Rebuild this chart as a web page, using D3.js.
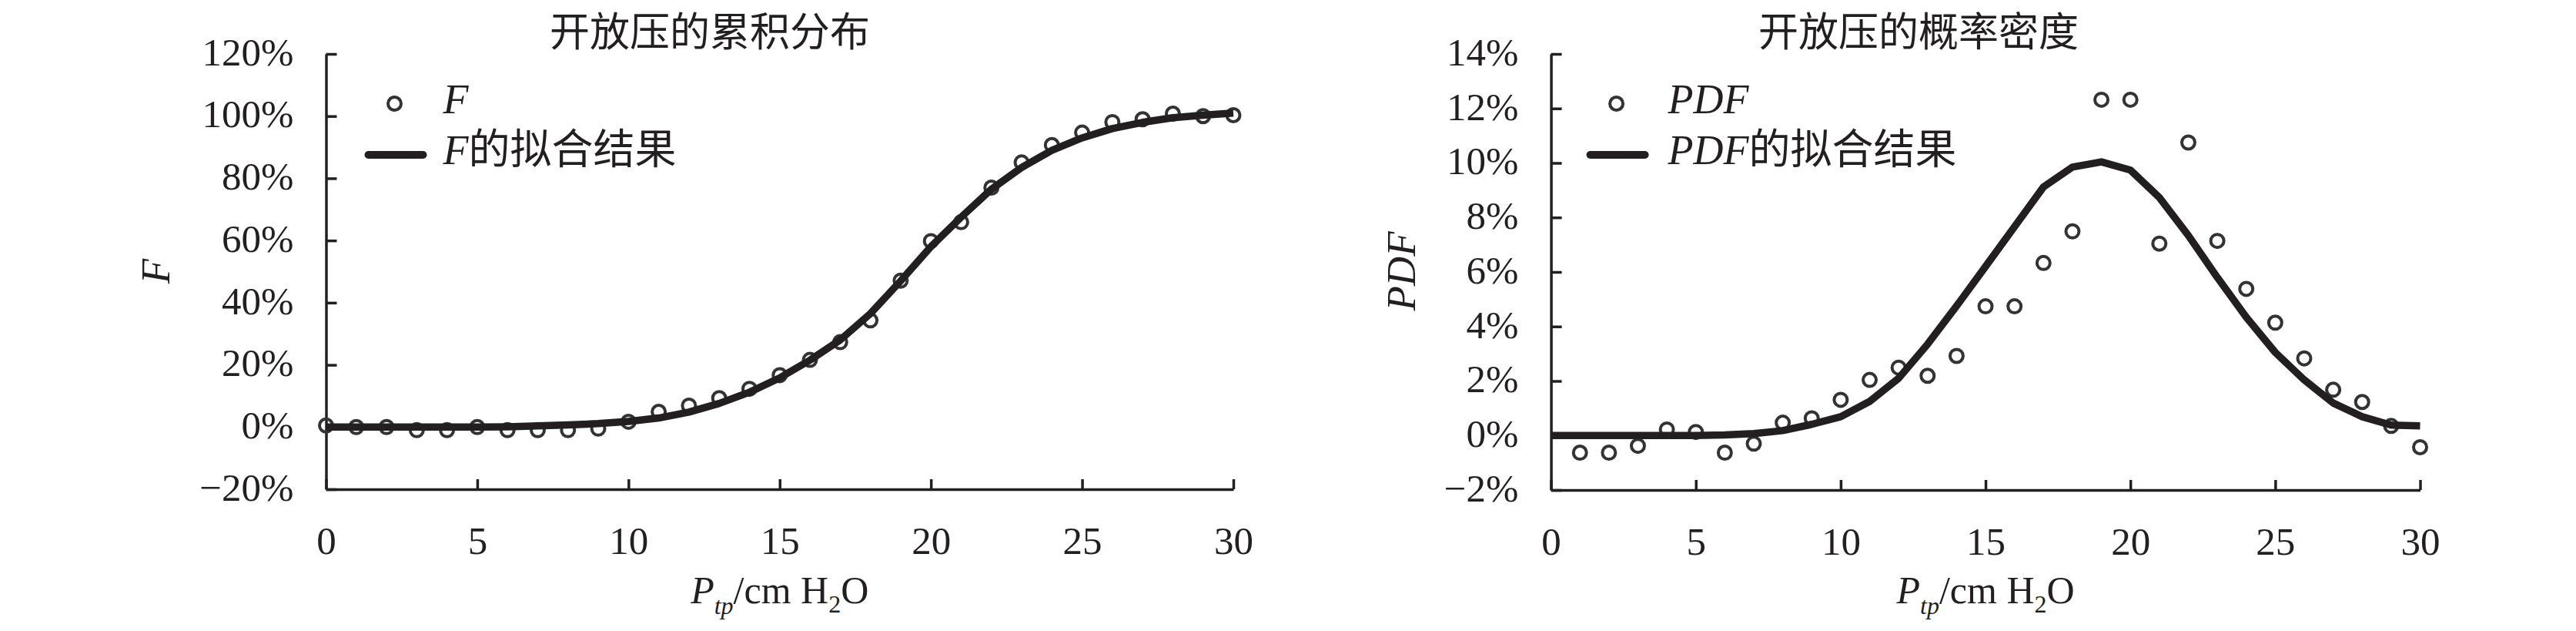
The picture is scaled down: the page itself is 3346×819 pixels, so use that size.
<!DOCTYPE html>
<html>
<head>
<meta charset="utf-8">
<script src="https://cdn.jsdelivr.net/npm/d3@7"></script>
<style>
  html, body { margin: 0; padding: 0; background: #fff; }
  svg { display: block; }
  .serif { font-family: "Liberation Serif", "Times New Roman", serif; }
  .cjk { font-family: "Noto Sans CJK SC", "Noto Sans CJK JP", sans-serif; }
</style>
</head>
<body>
<svg id="chart" width="3346" height="819"></svg>
<script>
// ---------------- data ----------------
const pressure = [0,1,2,3,4,5,6,7,8,9,10,11,12,13,14,15,16,17,18,19,20,21,22,23,24,25,26,27,28,29,30];

// cumulative distribution (%), observed
const cdfObserved = [0.5,0,0,-1,-1,0,-1,-1,-1,-0.5,1.7,4.9,6.9,9.3,12.3,16.7,21.6,27.3,34.3,47.1,59.8,65.9,77,85.1,90.7,94.7,98.1,99,100.8,100,100.3];
// cumulative distribution (%), fitted
const cdfFitted = [0,0,0,0,0,0,0.1,0.4,0.7,1.1,1.8,2.9,4.8,7.6,11.2,15.8,21.5,28,36.5,47,58,67.5,76.5,83.5,89,93,96,98,99.5,100.3,101];

// probability density (%), observed (x = 1..30)
const pdfPressure = [1,2,3,4,5,6,7,8,9,10,11,12,13,14,15,16,17,18,19,20,21,22,23,24,25,26,27,28,29,30];
const pdfObserved = [-0.63,-0.63,-0.38,0.22,0.13,-0.63,-0.3,0.47,0.63,1.31,2.04,2.49,2.19,2.92,4.74,4.74,6.33,7.49,12.32,12.32,7.04,10.75,7.14,5.38,4.14,2.83,1.68,1.23,0.35,-0.43];
// probability density (%), fitted (x = 0..30)
const pdfFitted = [0,0,0,0,0,0,0.02,0.07,0.18,0.41,0.69,1.25,2.1,3.35,4.75,6.2,7.66,9.12,9.85,10.04,9.74,8.73,7.34,5.8,4.34,3.05,2.04,1.19,0.69,0.38,0.35];

const xTicks = [0,5,10,15,20,25,30];
const cdfTicks = [-20,0,20,40,60,80,100,120];
const pdfTicks = [-2,0,2,4,6,8,10,12,14];

const titles = ["开放压的累积分布", "开放压的概率密度"];

// ---------------- drawing ----------------
const INK = "#231f20";
const MARK = "#333333";
const svg = d3.select("#chart");

function panel(cfg) {
  const x = d3.scaleLinear().domain([0, 30]).range(cfg.xr);
  const y = d3.scaleLinear().domain(cfg.yd).range(cfg.yr);
  const g = svg.append("g");

  // title
  g.append("text").attr("class", "cjk")
    .attr("x", cfg.titleX).attr("y", 60)
    .attr("text-anchor", "middle").attr("font-size", 52).attr("fill", INK)
    .text(cfg.title);

  // y axis
  const ya = g.append("g").attr("transform", `translate(${cfg.xr[0]},0)`)
    .call(d3.axisLeft(y).tickValues(cfg.yTicks.map(v => v / 100))
      .tickFormat(v => d3.format(".0%")(v))
      .tickSizeInner(-14).tickSizeOuter(0).tickPadding(42));
  // x axis
  const xa = g.append("g").attr("transform", `translate(0,${cfg.yr[0]})`)
    .call(d3.axisBottom(x).tickValues(xTicks).tickFormat(d3.format("d"))
      .tickSizeInner(-13).tickSizeOuter(0).tickPadding(48));
  [ya, xa].forEach(a => {
    a.select(".domain").attr("stroke", INK).attr("stroke-width", 3.5);
    a.selectAll(".tick line").attr("stroke", INK).attr("stroke-width", 3.5);
    a.selectAll(".tick text").attr("class", "serif").attr("font-size", 51).attr("fill", INK);
  });
  xa.selectAll(".tick text").attr("dy", "0.71em");
  ya.selectAll(".tick text").attr("dy", "0.28em");

  // observed points
  g.append("g").selectAll("circle").data(cfg.obsX.map((v, i) => [v, cfg.obs[i]]))
    .join("circle")
    .attr("cx", d => x(d[0])).attr("cy", d => y(d[1] / 100))
    .attr("r", 8.5).attr("fill", "none").attr("stroke", MARK).attr("stroke-width", 4);

  // fitted line
  const line = d3.line().x(d => x(d[0])).y(d => y(d[1] / 100));
  g.append("path").datum(pressure.map((v, i) => [v, cfg.fit[i]]))
    .attr("d", line).attr("fill", "none").attr("stroke", INK)
    .attr("stroke-width", 9.5).attr("stroke-linejoin", "round");

  // legend
  const lx = cfg.xr[0];
  g.append("circle").attr("cx", lx + cfg.legCircle).attr("cy", 134.5).attr("r", 8.5)
    .attr("fill", "none").attr("stroke", MARK).attr("stroke-width", 4);
  g.append("line").attr("x1", lx + cfg.legLine[0]).attr("x2", lx + cfg.legLine[1])
    .attr("y1", 201).attr("y2", 201).attr("stroke", INK)
    .attr("stroke-width", 10).attr("stroke-linecap", "round");
  const t1 = g.append("text").attr("x", lx + 152).attr("y", 147).attr("fill", INK).attr("font-size", 54);
  t1.append("tspan").attr("class", "serif").attr("font-style", "italic").text(cfg.name);
  const t2 = g.append("text").attr("x", lx + 152).attr("y", 213).attr("fill", INK).attr("font-size", 54);
  t2.append("tspan").attr("class", "serif").attr("font-style", "italic").text(cfg.name);
  t2.append("tspan").attr("class", "cjk").text("的拟合结果");

  // y axis title
  g.append("text").attr("class", "serif").attr("font-style", "italic")
    .attr("font-size", 53).attr("fill", INK).attr("text-anchor", "middle")
    .attr("transform", `translate(${cfg.yTitleX},352) rotate(-90)`)
    .text(cfg.name);

  // x axis title
  const xt = g.append("text").attr("class", "serif").attr("font-size", 50).attr("fill", INK)
    .attr("text-anchor", "middle")
    .attr("x", (cfg.xr[0] + cfg.xr[1]) / 2).attr("y", 783);
  xt.append("tspan").attr("font-style", "italic").text("P");
  xt.append("tspan").attr("font-style", "italic").attr("font-size", 32).attr("dy", 14).text("tp");
  xt.append("tspan").attr("dy", -14).text("/cm H");
  xt.append("tspan").attr("font-size", 32).attr("dy", 12).text("2");
  xt.append("tspan").attr("dy", -12).text("O");
}

panel({
  title: titles[0], titleX: 922, name: "F",
  xr: [423.5, 1602], yd: [-0.2, 1.2], yr: [635, 70], yTicks: cdfTicks,
  obsX: pressure, obs: cdfObserved, fit: cdfFitted,
  legCircle: 89, legLine: [55, 126], yTitleX: 220
});
panel({
  title: titles[1], titleX: 2492, name: "PDF",
  xr: [2014.6, 3143.5], yd: [-0.02, 0.14], yr: [636, 70], yTicks: pdfTicks,
  obsX: pdfPressure, obs: pdfObserved, fit: pdfFitted,
  legCircle: 85, legLine: [51, 122], yTitleX: 1838
});
</script>
</body>
</html>
